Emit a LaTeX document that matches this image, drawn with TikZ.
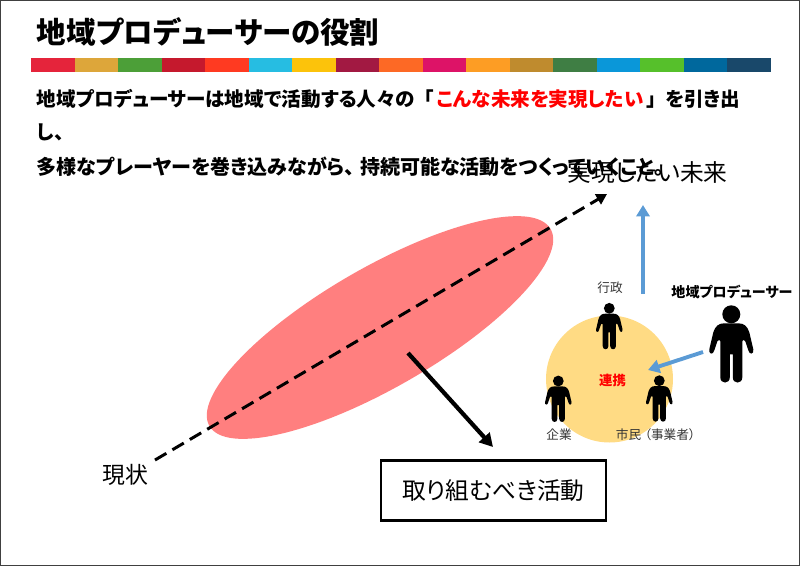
\documentclass[tikz,border=0pt]{standalone}
\usepackage{fontspec}
\setmainfont{Noto Sans CJK JP}[RawFeature=+palt]
\usetikzlibrary{arrows.meta,shapes.geometric}
\definecolor{blueArrow}{HTML}{5B9BD5}
\definecolor{redEllipse}{HTML}{FF7F7F}
\definecolor{yellowCircle}{HTML}{FFDB84}
\tikzset{
	txt/.style={inner sep=0pt,font=\fontsize{#1}{#1}\selectfont},
	boldtxt/.style={inner sep=0pt,font=\fontsize{#1}{#1}\selectfont\bfseries},
	bluearrow/.style={blueArrow,line width=2.2pt,-{Triangle[length=6.5pt,width=7.5pt]}},
	blackarrow/.style={line width=2.4pt,-{Triangle[length=7.5pt,width=8pt]}},
	person/.pic={
		\fill (0,0) circle [radius=9];
		\fill (-7,9) -- (7,9) .. controls (13,9) and (16,12) .. (18,18) -- (22,35) .. controls (23,40) and (18,41) .. (17,36) -- (14,27) .. controls (13,25) and (11,25) .. (11,27) -- (11,63) .. controls (11,70) and (1.5,70) .. (1.5,63) -- (1.5,40) -- (-1.5,40) -- (-1.5,63) .. controls (-1.5,70) and (-11,70) .. (-11,63) -- (-11,27) .. controls (-11,25) and (-13,25) .. (-14,27) -- (-17,36) .. controls (-18,41) and (-23,40) .. (-22,35) -- (-18,18) .. controls (-16,12) and (-13,9) .. (-7,9) -- cycle;
	},
}
\begin{document}
\begin{tikzpicture}[x=0.02cm,y=-0.02cm]
	\useasboundingbox (0,0) rectangle (800,566);
	\draw[line width=0.6pt,black!75] (0.5,0.5) rectangle (799.5,565.5);
	\node[boldtxt=16.8,anchor=west] (title) at (36.5,32) {地域プロデューサーの役割};
	% colour bar
	\foreach \col [count=\i from 0] in {E5243B,DDA63A,4C9F38,C5192D,FF3A21,26BDE2,FCC30B,A21942,FD6925,DD1367,FD9D24,BF8B2E,3F7E44,0A97D9,56C02B,00689D,19486A}{
		\definecolor{barcol}{HTML}{\col}
		\fill[barcol] ({31+\i*43.53},58) rectangle ++(43.53,14);
	}
	\node[boldtxt=11.15,anchor=west] (lineA) at (36.5,99) {地域プロデューサーは地域で活動する人々の\kern5.5pt「\kern1.5pt\textcolor{red}{こんな未来を実現したい}\kern2pt」\kern5pt を引き出};
	\node[boldtxt=11.15,anchor=west] (lineB) at (36.5,132) {し、};
	\node[boldtxt=11.4,anchor=west] (lineC) at (36.5,167) {多様なプレーヤーを巻き込みながら、\kern3pt 持続可能な活動をつくっていくこと。};
	\node[ellipse,fill=redEllipse,inner sep=0pt,minimum width=7.88cm,minimum height=2.4cm,rotate=30] (activity) at (380,327.5) {};
	\node[circle,fill=yellowCircle,inner sep=0pt,minimum size=2.54cm] (renkei) at (609.5,379) {};
	\coordinate (nowEnd) at (155,460);
	\coordinate (futureEnd) at (607,194);
	\draw[line width=1.7pt,dash pattern=on 7.5pt off 4pt,-{Triangle[length=6pt,width=6.5pt]}] (nowEnd) -- (futureEnd);
	\node[txt=13.5] (future) at (647.5,173) {実現したい未来};
	\node[txt=13] (now) at (125,475) {現状};
	\node[draw,line width=1.4pt,inner sep=0pt,minimum width=4.5cm,minimum height=1.2cm,font=\fontsize{13.5}{13.5}\selectfont] (todo) at (493.5,490.5) {\raisebox{1pt}{取り組むべき活動}};
	\coordinate (todoStart) at (408,353);
	\coordinate (todoEnd) at (493,447);
	\draw[blackarrow] (todoStart) -- (todoEnd);
	\coordinate (upStart) at (643,294);
	\coordinate (upEnd) at (643,205);
	\draw[bluearrow] (upStart) -- (upEnd);
	\coordinate (prodStart) at (703,352);
	\coordinate (prodEnd) at (648,370);
	\draw[bluearrow] (prodStart) -- (prodEnd);
	\pic[scale=.6] at (609.3,308.3) {person};
	\pic[scale=.6] at (558.3,381) {person};
	\pic[scale=.6] at (659.3,380.7) {person};
	\pic at (731.3,314.3) {person};
	\node[txt=7.2,black!80] (gyosei) at (610,288) {行政};
	\node[txt=7.2,black!80] (kigyo) at (559,435) {企業};
	\node[txt=7.2,black!80] (shimin) at (656.5,435) {市民\kern2pt（事業者）\kern1pt};
	\node[boldtxt=7.6,text=red] (renkeiLabel) at (612.5,380) {連携};
	\node[boldtxt=8,anchor=center] (prod) at (732,292) {地域プロデューサー};
\end{tikzpicture}
\end{document}
